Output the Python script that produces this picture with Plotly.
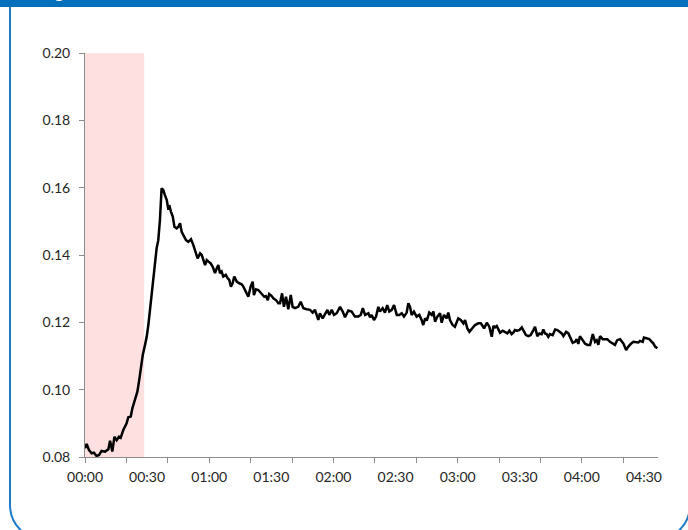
import plotly.graph_objects as go

# ---------------- data (time in seconds, value) ----------------
times = [
    0.0, 0.8, 1.9, 3.2, 4.3, 5.6, 6.8, 8.0, 9.7, 11.3,
    12.1, 13.2, 14.2, 15.3, 16.4, 17.2, 18.5, 20.1, 20.9, 22.1,
    22.9, 24.2, 25.3, 26.2, 27.1, 27.9, 29.0, 29.8, 30.6, 31.4,
    32.2, 33.0, 33.8, 34.6, 35.4, 36.2, 37.0, 37.8, 38.6, 39.5,
    40.3, 40.7, 41.5, 42.4, 43.2, 44.3, 45.1, 45.9, 46.7, 47.5,
    48.8, 49.9, 51.2, 52.3, 53.6, 54.4, 55.6, 56.4, 57.2, 58.0,
    58.8, 59.6, 60.7, 61.7, 62.8, 63.6, 64.4, 65.2, 66.0, 66.8,
    68.0, 68.9, 69.7, 70.5, 71.3, 72.1, 73.3, 74.5, 75.7, 76.5,
    78.1, 78.9, 80.0, 81.0, 81.6, 82.6, 83.7, 84.5, 85.8, 86.6,
    87.4, 88.3, 89.0, 90.2, 91.0, 92.3, 93.4, 94.2, 95.2, 96.1,
    97.1, 98.2, 99.4, 100.3, 101.4, 103.0, 104.2, 105.5, 107.1, 108.7,
    110.0, 111.1, 112.7, 113.5, 114.8, 115.9, 117.1, 118.0, 119.2, 120.3,
    121.6, 123.2, 124.5, 125.6, 127.2, 128.8, 130.4, 132.0, 133.2, 134.2,
    135.3, 136.9, 137.7, 138.5, 139.6, 140.6, 141.7, 142.5, 143.8, 144.9,
    146.0, 147.0, 148.2, 149.3, 150.6, 151.8, 153.0, 154.1, 155.4, 156.2,
    157.0, 157.8, 158.9, 160.2, 161.5, 162.6, 163.4, 164.3, 165.1, 166.3,
    167.5, 168.3, 169.1, 170.2, 171.5, 172.3, 173.4, 174.7, 175.5, 176.3,
    177.6, 178.7, 180.3, 181.5, 182.8, 183.6, 184.7, 185.7, 186.8, 188.4,
    190.0, 191.2, 192.1, 192.8, 194.1, 195.3, 196.5, 197.3, 198.1, 198.9,
    199.7, 200.5, 201.8, 202.9, 204.0, 205.0, 206.1, 206.9, 207.7, 208.6,
    209.8, 211.0, 211.7, 213.0, 214.2, 215.3, 216.6, 217.4, 218.5, 219.5,
    220.6, 221.4, 222.2, 223.0, 223.8, 224.6, 225.9, 227.1, 228.2, 229.5,
    230.3, 231.1, 232.4, 233.5, 234.6, 235.6, 236.7, 237.5, 238.3, 239.1,
    240.4, 241.5, 242.7, 244.0, 245.3, 246.4, 247.2, 248.0, 248.8, 250.1,
    251.2, 252.3, 253.6, 254.9, 256.0, 257.1, 258.5, 260.1, 261.4, 262.5,
    263.6, 264.9, 266.2, 267.3, 268.1, 269.4, 270.0, 271.4, 272.6, 273.8,
    274.6, 275.4, 276.5,
]
values = [
    0.0826, 0.0839, 0.0821, 0.0811, 0.0813, 0.0803, 0.0806, 0.0818, 0.0816, 0.0823,
    0.0848, 0.0816, 0.0860, 0.0850, 0.0860, 0.0857, 0.0880, 0.0900, 0.0918, 0.0920,
    0.0945, 0.0969, 0.0994, 0.1029, 0.1078, 0.1103, 0.1133, 0.1157, 0.1192, 0.1237,
    0.1276, 0.1326, 0.1375, 0.1420, 0.1444, 0.1504, 0.1598, 0.1593, 0.1578, 0.1563,
    0.1534, 0.1548, 0.1529, 0.1514, 0.1484, 0.1479, 0.1484, 0.1494, 0.1469, 0.1459,
    0.1444, 0.1439, 0.1447, 0.1430, 0.1405, 0.1390, 0.1405, 0.1400, 0.1385, 0.1370,
    0.1385, 0.1380, 0.1375, 0.1365, 0.1346, 0.1360, 0.1370, 0.1346, 0.1351, 0.1336,
    0.1341, 0.1331, 0.1326, 0.1306, 0.1316, 0.1336, 0.1321, 0.1316, 0.1313, 0.1306,
    0.1286, 0.1276, 0.1306, 0.1321, 0.1281, 0.1298, 0.1296, 0.1291, 0.1284, 0.1276,
    0.1278, 0.1266, 0.1284, 0.1278, 0.1271, 0.1266, 0.1257, 0.1257, 0.1286, 0.1246,
    0.1276, 0.1239, 0.1281, 0.1246, 0.1242, 0.1246, 0.1261, 0.1242, 0.1239, 0.1237,
    0.1229, 0.1237, 0.1207, 0.1227, 0.1212, 0.1225, 0.1237, 0.1222, 0.1237, 0.1222,
    0.1227, 0.1246, 0.1232, 0.1215, 0.1235, 0.1232, 0.1217, 0.1217, 0.1222, 0.1242,
    0.1222, 0.1227, 0.1215, 0.1222, 0.1207, 0.1217, 0.1246, 0.1232, 0.1242, 0.1229,
    0.1251, 0.1232, 0.1237, 0.1251, 0.1222, 0.1222, 0.1227, 0.1217, 0.1229, 0.1257,
    0.1246, 0.1222, 0.1232, 0.1217, 0.1222, 0.1207, 0.1192, 0.1212, 0.1205, 0.1229,
    0.1222, 0.1232, 0.1202, 0.1217, 0.1227, 0.1199, 0.1222, 0.1212, 0.1229, 0.1207,
    0.1192, 0.1187, 0.1212, 0.1207, 0.1197, 0.1207, 0.1182, 0.1172, 0.1179, 0.1192,
    0.1197, 0.1197, 0.1189, 0.1182, 0.1199, 0.1187, 0.1157, 0.1189, 0.1185, 0.1189,
    0.1179, 0.1169, 0.1175, 0.1172, 0.1167, 0.1175, 0.1165, 0.1169, 0.1177, 0.1175,
    0.1177, 0.1185, 0.1175, 0.1162, 0.1159, 0.1162, 0.1177, 0.1187, 0.1159, 0.1167,
    0.1165, 0.1179, 0.1167, 0.1165, 0.1157, 0.1165, 0.1162, 0.1179, 0.1177, 0.1172,
    0.1167, 0.1159, 0.1172, 0.1167, 0.1152, 0.1139, 0.1142, 0.1150, 0.1136, 0.1159,
    0.1147, 0.1137, 0.1133, 0.1133, 0.1165, 0.1142, 0.1147, 0.1133, 0.1159, 0.1150,
    0.1150, 0.1150, 0.1142, 0.1136, 0.1133, 0.1147, 0.1150, 0.1137, 0.1118, 0.1128,
    0.1136, 0.1142, 0.1142, 0.1140, 0.1145, 0.1142, 0.1155, 0.1152, 0.1150, 0.1142,
    0.1137, 0.1128, 0.1123,
]

label_ticks = [0, 30, 60, 90, 120, 150, 180, 210, 240, 270]
label_text = ["00:00", "00:30", "01:00", "01:30", "02:00", "02:30",
              "03:00", "03:30", "04:00", "04:30"]
mark_ticks = [0, 20, 40, 60, 80, 100, 120, 140, 160, 180, 200, 220, 240, 260]
y_ticks = [0.08, 0.10, 0.12, 0.14, 0.16, 0.18, 0.20]

shade_start = 0
shade_end = 28.6
x_range = [0, 276.8]
y_range = [0.08, 0.20]

# ---------------- figure ----------------
W, H = 688, 530
ML, MR, MT, MB = 85, 30, 53, 73
PW, PH = W - ML - MR, H - MT - MB


def pxx(x):
    return (x - ML) / PW


def pxy(y):
    return (H - MB - y) / PH


fig = go.Figure()
fig.add_trace(go.Scatter(x=times, y=values, mode="lines",
                         line=dict(color="black", width=2.5),
                         showlegend=False, hoverinfo="skip"))
fig.add_trace(go.Scatter(x=times, y=values, mode="lines", xaxis="x2",
                         line=dict(color="rgba(0,0,0,0)", width=0),
                         showlegend=False, hoverinfo="skip"))

axis_grey = "#8C8C8C"
tick_font = dict(family="Lato", size=14, color="#262626")

fig.update_layout(
    width=W, height=H, autosize=False,
    margin=dict(l=ML, r=MR, t=MT, b=MB, pad=0),
    paper_bgcolor="white", plot_bgcolor="white",
    hovermode=False,
    xaxis=dict(range=x_range, tickmode="array", tickvals=label_ticks,
               ticktext=label_text, ticks="outside", ticklen=5,
               tickcolor="rgba(0,0,0,0)", showline=True, linecolor=axis_grey,
               linewidth=1, showgrid=False, zeroline=False, tickfont=tick_font,
               ticklabelstandoff=2),
    xaxis2=dict(range=x_range, overlaying="x", anchor="y", side="bottom",
                tickmode="array", tickvals=mark_ticks, ticks="outside",
                ticklen=5, tickcolor=axis_grey, tickwidth=1,
                showticklabels=False, showline=False, showgrid=False,
                zeroline=False),
    yaxis=dict(range=y_range, tickmode="array", tickvals=y_ticks,
               tickformat=".2f", ticks="outside", ticklen=5,
               tickcolor=axis_grey, showline=True, linecolor=axis_grey,
               linewidth=1, showgrid=False, zeroline=False, tickfont=tick_font,
               ticklabelstandoff=6),
)

shapes = []
# shaded interval
shapes.append(dict(type="rect", xref="x", yref="y", x0=shade_start, x1=shade_end,
                   y0=y_range[0], y1=y_range[1], fillcolor="#FFE0E1",
                   line=dict(width=0), layer="below"))
# header bar
shapes.append(dict(type="rect", xref="paper", yref="paper",
                   x0=pxx(-5), x1=pxx(W + 5), y0=pxy(7), y1=pxy(-5),
                   fillcolor="#0070BA", line=dict(width=0), layer="above"))
# rounded frame
L, R, T, B, r = 10, 690, 7, 540, 35
k = 0.5523 * r
path = (
    f"M {pxx(L)},{pxy(T)} L {pxx(L)},{pxy(B - r)} "
    f"C {pxx(L)},{pxy(B - r + k)} {pxx(L + r - k)},{pxy(B)} {pxx(L + r)},{pxy(B)} "
    f"L {pxx(R - r)},{pxy(B)} "
    f"C {pxx(R - r + k)},{pxy(B)} {pxx(R)},{pxy(B - r + k)} {pxx(R)},{pxy(B - r)} "
    f"L {pxx(R)},{pxy(T)}"
)
shapes.append(dict(type="path", xref="paper", yref="paper", path=path,
                   line=dict(color="#1F7BC8", width=2), layer="above"))
fig.update_layout(shapes=shapes)

fig.add_annotation(xref="paper", yref="paper", x=pxx(40), y=pxy(3),
                   xanchor="left", yanchor="bottom", showarrow=False,
                   text="<b>Figure</b>",
                   font=dict(family="Lato", size=16, color="white"))

fig.write_html("out.html",
               config={"displayModeBar": False},
               post_script="document.body.style.margin='0';"
                           "document.body.style.overflow='hidden';")
